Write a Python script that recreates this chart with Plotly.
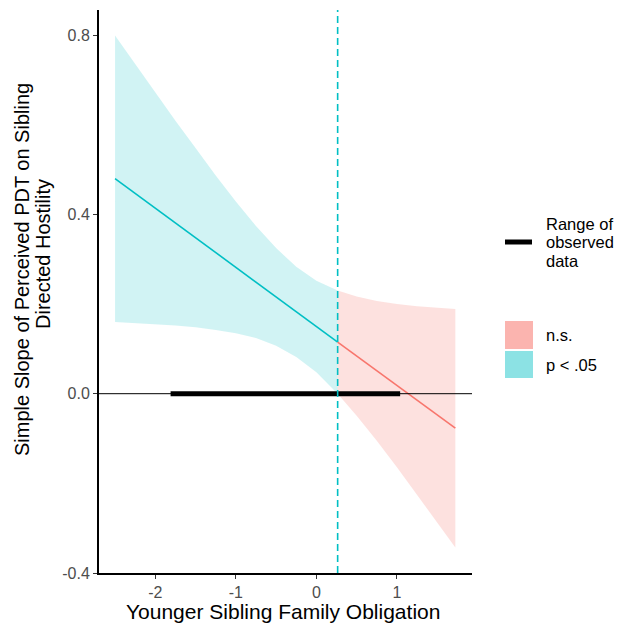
import plotly.graph_objects as go

# ---- data ----
x_sig = [-2.5, -2.25, -2.0, -1.75, -1.5, -1.25, -1.0, -0.75, -0.5, -0.25, 0.0, 0.264]
est_sig = [0.480, 0.447, 0.414, 0.381, 0.348, 0.315, 0.282, 0.249, 0.216, 0.183, 0.150, 0.115]
up_sig = [0.799, 0.735, 0.672, 0.609, 0.548, 0.487, 0.429, 0.374, 0.325, 0.283, 0.252, 0.230]
lo_sig = [0.160, 0.158, 0.155, 0.152, 0.148, 0.142, 0.135, 0.124, 0.107, 0.082, 0.048, 0.000]

x_ns = [0.264, 0.5, 0.75, 1.0, 1.25, 1.5, 1.725]
est_ns = [0.115, 0.084, 0.051, 0.018, -0.015, -0.048, -0.077]
up_ns = [0.230, 0.217, 0.207, 0.200, 0.195, 0.192, 0.189]
lo_ns = [0.000, -0.049, -0.105, -0.164, -0.225, -0.287, -0.343]

jn_point = 0.264
observed_range = [-1.81, 1.04]

x_tick_vals = [-2, -1, 0, 1]
x_tick_text = ["-2", "-1", "0", "1"]
y_tick_vals = [-0.4, 0.0, 0.4, 0.8]
y_tick_text = ["-0.4", "0.0", "0.4", "0.8"]

range_label_lines = ["Range of", "observed", "data"]
band_labels = ["n.s.", "p < .05"]
y_title_lines = ["Simple Slope of Perceived PDT on Sibling", "Directed Hostility"]
x_title = "Younger Sibling Family Obligation"

TEAL = "#00BFC4"
RED = "#F8766D"

fig = go.Figure()

# confidence bands
fig.add_trace(go.Scatter(
    x=x_sig + x_sig[::-1], y=up_sig + lo_sig[::-1],
    fill="toself", fillcolor="rgba(0,191,196,0.18)", line=dict(width=0),
    mode="lines", hoverinfo="skip", showlegend=False))
fig.add_trace(go.Scatter(
    x=x_ns + x_ns[::-1], y=up_ns + lo_ns[::-1],
    fill="toself", fillcolor="rgba(248,118,109,0.22)", line=dict(width=0),
    mode="lines", hoverinfo="skip", showlegend=False))

# zero line
fig.add_hline(y=0, line=dict(color="black", width=1))

# range of observed data
fig.add_trace(go.Scatter(
    x=observed_range, y=[0, 0], mode="lines",
    line=dict(color="black", width=5), showlegend=False))

# slope lines
fig.add_trace(go.Scatter(x=x_sig, y=est_sig, mode="lines",
                         line=dict(color=TEAL, width=1.6), showlegend=False))
fig.add_trace(go.Scatter(x=x_ns, y=est_ns, mode="lines",
                         line=dict(color=RED, width=1.6), showlegend=False))

# Johnson-Neyman point
fig.add_vline(x=jn_point, line=dict(color=TEAL, width=1.6, dash="7px,4px"))

# ---- layout ----
L, R, T, B = 99, 145, 10, 52
W, H = 617, 625
pw, ph = W - L - R, H - T - B


def px(xp):
    return (xp - L) / pw


def py(yp):
    return (H - B - yp) / ph


FONT = "Liberation Sans, Arial, sans-serif"

shapes = [
    dict(type="line", xref="paper", yref="paper", x0=px(505), x1=px(532),
         y0=py(242), y1=py(242), line=dict(color="black", width=5)),
    dict(type="rect", xref="paper", yref="paper", x0=px(505), x1=px(533),
         y0=py(349), y1=py(321), line=dict(width=0),
         fillcolor="rgba(248,118,109,0.55)"),
    dict(type="rect", xref="paper", yref="paper", x0=px(505), x1=px(533),
         y0=py(378), y1=py(351), line=dict(width=0),
         fillcolor="rgba(0,191,196,0.45)"),
]
for s in shapes:
    fig.add_shape(**s)

LEG_FONT = dict(size=16.5, color="black")
annotations = []
for txt, yp in zip(range_label_lines, [224, 242, 261]):
    annotations.append(dict(text=txt, x=px(544), y=py(yp), xanchor="left",
                            yanchor="middle", font=LEG_FONT))
for txt, yp in zip(band_labels, [335, 365]):
    annotations.append(dict(text=txt, x=px(544), y=py(yp), xanchor="left",
                            yanchor="middle", font=LEG_FONT))
for txt, xp, yp in zip(y_title_lines, [22, 43], [270, 254]):
    annotations.append(dict(text=txt, x=px(xp), y=py(yp), xanchor="center",
                            yanchor="middle", textangle=-90,
                            font=dict(size=20, color="black")))
annotations.append(dict(text=x_title, x=px(283), y=py(611), xanchor="center",
                        yanchor="middle", font=dict(size=21, color="black")))
for a in annotations:
    fig.add_annotation(xref="paper", yref="paper", showarrow=False, **a)

fig.update_layout(
    width=W, height=H,
    margin=dict(l=L, r=R, t=T, b=B),
    paper_bgcolor="white", plot_bgcolor="white",
    font=dict(family=FONT),
    showlegend=False,
)
fig.update_xaxes(
    range=[-2.699, 1.932], tickvals=x_tick_vals, ticktext=x_tick_text,
    showgrid=False, zeroline=False, showline=True, linecolor="black", linewidth=2,
    ticks="outside", ticklen=4, tickwidth=1.2, tickcolor="#333333",
    tickfont=dict(size=16, color="#4D4D4D", family=FONT),
)
fig.update_yaxes(
    range=[-0.4, 0.856], tickvals=y_tick_vals, ticktext=y_tick_text,
    showgrid=False, zeroline=False, showline=True, linecolor="black", linewidth=2,
    ticks="outside", ticklen=4, tickwidth=1.2, tickcolor="#333333",
    tickfont=dict(size=16, color="#4D4D4D", family=FONT),
)

fig.write_html("out.html")
